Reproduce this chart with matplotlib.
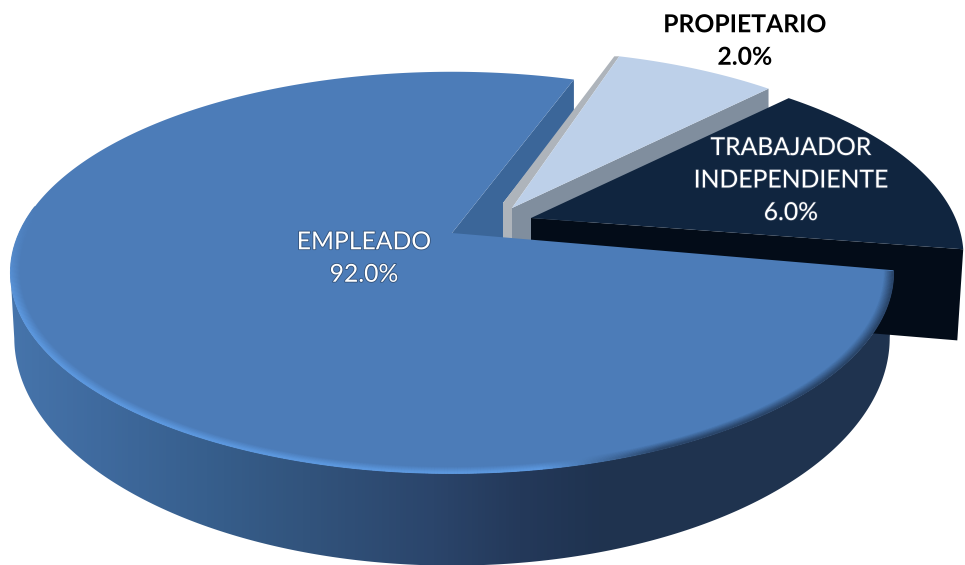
import numpy as np
import matplotlib
matplotlib.use("Agg")
import matplotlib.pyplot as plt
import matplotlib.patheffects as pe
from matplotlib.collections import LineCollection
from matplotlib.colors import LinearSegmentedColormap, to_rgb
from matplotlib.patches import Polygon

categories = ["EMPLEADO", "TRABAJADOR\nINDEPENDIENTE", "PROPIETARIO"]
printed_percent = [92.0, 6.0, 2.0]
# the slices in the picture are not drawn in proportion to their labels,
# so these are the shares of the circle
drawn_share = [77.3, 15.4, 7.3]

plt.rcParams["font.family"] = ["Lato", "DejaVu Sans"]

# perspective of the disc: (height, width, foreshortening)
TOP = (193, 433, 0.197)
BOTTOM = (220, 430, 0.187)
FACE = "#4c7cb8"


def project(theta_deg, apex, view, r=1.0):
    t = np.radians(theta_deg)
    u, v = r * np.cos(t), r * np.sin(t)
    h, w, k = view
    d = 1 + k * v
    return np.column_stack([apex[0] + w * u / d, apex[1] - h * v / d])


def wedge(theta1, theta2, apex, r=1.0):
    arc = project(np.linspace(theta1, theta2, 300), apex, TOP, r)
    return np.vstack([[apex], arc])


def rim_color(x, f):
    # bright edge on the lit side, soft dark edge on the right
    s = np.clip((x - 540) / 120, 0, 1)
    edge = (1 - s) * np.array(to_rgb("#5c98df")) + s * np.array(to_rgb("#2a4569"))
    return (1 - f) * np.array(to_rgb(FACE)) + f * edge


sweep = np.array(drawn_share) * 3.6
prop_start = 72.5
prop_end = prop_start - sweep[2]
trab_end = prop_end - sweep[1]
main_start = 70.5
main_end = main_start + sweep[0] + 0.5

main_apex = (452, 233)
main_base = (452, 295)
prop_apex = (512, 208)
trab_apex = (531, 218)
trab_base = (531, 305)

fig = plt.figure(figsize=(9.65, 5.65), dpi=100)
ax = fig.add_axes([0, 0, 1, 1])
ax.axis("off")

# back wall of the big slice
tip_top = project(main_start, main_apex, TOP)[0]
prop_corner = (prop_apex[0] - 9, prop_apex[1] - 5)
ax.add_patch(Polygon([main_apex, tip_top, tip_top + [0, 33], prop_corner, (prop_corner[0], 245), (main_apex[0], 245)],
                     fc="#3b6699", ec="none"))

# propietario
p_left = project(prop_start, prop_apex, TOP, 0.975)[0]
p_right = project(prop_end, prop_apex, TOP, 0.975)[0]
ax.add_patch(Polygon([p_left, p_left + [-5, 0], prop_corner,
                      (prop_corner[0], 245), (prop_apex[0], 245), prop_apex],
                     fc="#aeb4bb", ec="none"))
ax.add_patch(Polygon([prop_apex, p_right, p_right + [0, 60], (trab_apex[0], 245), (prop_apex[0], 245)],
                     fc="#808e9e", ec="none"))
ax.add_patch(Polygon(wedge(prop_start, prop_end, prop_apex, 0.975), fc="#bdd0e9", ec="none"))

# trabajador independiente
t_top = project(trab_end, trab_apex, TOP, 0.98)[0]
t_bottom = project(trab_end, trab_base, BOTTOM, 0.975)[0]
ax.add_patch(Polygon([trab_apex, t_top, t_bottom, trab_base], fc="#030c18", ec="none"))
ax.add_patch(Polygon(wedge(prop_end, trab_end, trab_apex, 0.98), fc="#10253f", ec="none"))

# side wall of the big slice, shaded from left to right
side = np.linspace(191, main_end, 400)
wall = Polygon(np.vstack([project(side, main_apex, TOP), project(side, main_base, BOTTOM)[::-1]]),
               transform=ax.transData, fc="none", ec="none")
wall_cmap = LinearSegmentedColormap.from_list("wall", [
    (0.0, "#4674ab"), (0.10, "#3f6a9e"), (0.22, "#375f8d"), (0.33, "#32547d"),
    (0.48, "#2b456b"), (0.58, "#24395a"), (0.67, "#1f3350"), (1.0, "#20344f")])
im = ax.imshow(np.linspace(0, 1, 256)[None, :], cmap=wall_cmap, aspect="auto",
               extent=(10, 892, 565, 0), interpolation="bilinear")
im.set_clip_path(wall)

# top of the big slice and its bevelled edge
ax.add_patch(Polygon(wedge(main_start, main_end, main_apex), fc=FACE, ec="none"))
rim_arc = np.linspace(172, main_end - 0.3, 500)
for f in np.linspace(0.08, 1, 14):
    pts = project(rim_arc, main_apex, TOP, 0.98 + 0.02 * f - 0.001)
    segs = np.stack([pts[:-1], pts[1:]], axis=1)
    fade = np.clip((rim_arc[:-1] - 172) / 30, 0, 1)
    cols = [rim_color(x, f * a) for x, a in zip(pts[:-1, 0], fade)]
    ax.add_collection(LineCollection(segs, colors=cols, linewidths=1.2, capstyle="butt"))

ax.set_xlim(0, 965)
ax.set_ylim(565, 0)

label_size = 17.8
soft = [pe.withStroke(linewidth=1.2, foreground="#33527a")]
dark = [pe.withStroke(linewidth=1.0, foreground="#33445c")]
halo = [pe.withStroke(linewidth=3, foreground="white")]
ax.text(364, 258, f"{categories[0]}\n{printed_percent[0]:.1f}%", color="white", ha="center", va="center",
        fontsize=label_size, linespacing=1.5, path_effects=soft)
ax.text(791, 180, f"{categories[1]}\n{printed_percent[1]:.1f}%", color="white", ha="center", va="center",
        fontsize=label_size, linespacing=1.5, path_effects=dark)
ax.text(745, 41, f"{categories[2]}\n{printed_percent[2]:.1f}%", color="black", ha="center", va="center",
        fontsize=label_size, fontweight="bold", linespacing=1.5, path_effects=halo)

fig.savefig("out.png", dpi=100)
